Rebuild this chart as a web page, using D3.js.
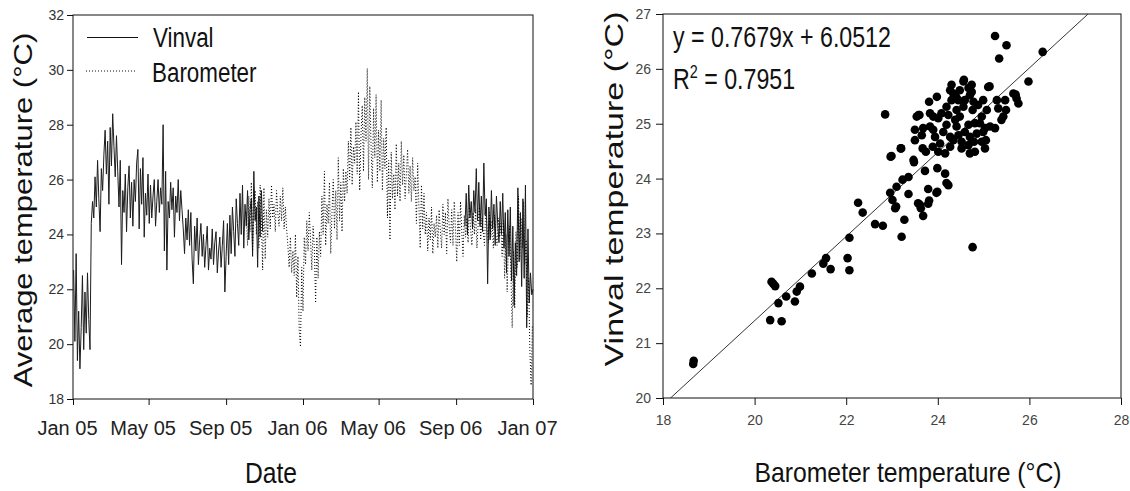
<!DOCTYPE html>
<html>
<head>
<meta charset="utf-8">
<script src="https://cdn.jsdelivr.net/npm/d3@7"></script>
<style>
    body { margin: 0; background: #fff; }
    svg { display: block; font-family: "Liberation Sans", Arial, sans-serif; }
</style>
</head>
<body>
<div id="visualization"></div>
<script>
//series names used in the legend
const seriesNames = ["Vinval", "Barometer"];

//date axis ticks
const dateTicks = [
    new Date(2005, 0, 1), new Date(2005, 4, 1), new Date(2005, 8, 1),
    new Date(2006, 0, 1), new Date(2006, 4, 1), new Date(2006, 8, 1),
    new Date(2007, 0, 1)
];
const dateTickLabels = ["Jan 05", "May 05", "Sep 05", "Jan 06", "May 06", "Sep 06", "Jan 07"];
const tempTicks = [18, 20, 22, 24, 26, 28, 30, 32];

//daily averages, one reading every 2 days
const stepDays = 2;

const vinval2005Start = new Date(2005, 0, 2);
const vinval2005 = [
    22.7, 20.1, 23.3, 19.4, 21.2, 19.1, 20.6, 22.5, 19.8, 21.9, 20.4, 22.6, 20.9, 19.8,
    24.4, 25.2,
    24.6, 26.1, 25.0, 26.7, 25.3, 24.1, 26.4, 25.6,
    26.9, 27.8, 26.2, 27.4, 25.1, 27.9, 26.5, 28.4, 27.2, 26.1, 27.6,
    26.3, 25.0, 26.7, 22.9, 25.6,
    24.8, 26.2, 24.1, 25.7, 26.5, 24.6, 25.9, 24.3, 26.0, 25.2, 26.6,
    27.1, 24.2, 26.4, 25.1, 26.8, 23.9, 25.5, 24.7, 26.2, 24.4,
    25.8, 24.6, 25.4, 26.0, 24.3, 25.2, 26.0, 24.8, 25.7, 25.1,
    28.0,
    23.4, 26.3, 22.7, 25.2,
    24.6, 25.9, 24.9, 25.7, 23.9, 25.4, 24.8, 26.0, 24.5, 25.6, 24.9,
    24.2, 23.3, 24.6, 23.8, 24.9, 23.6,
    24.8, 23.1, 22.2, 24.3, 23.4, 24.6, 22.9, 23.8, 24.4, 23.2,
    24.0, 22.8, 23.6, 24.3, 22.7, 23.5, 23.1, 24.2, 22.9, 23.7, 24.1, 22.6, 23.4, 23.9, 22.8, 23.6, 24.5, 21.9, 23.2, 24.4, 22.9,
    24.7, 23.3, 25.0, 24.1, 23.2, 25.3, 24.4, 23.6, 25.5, 24.0, 25.8,
    23.5, 25.1, 24.3, 25.6, 23.8, 24.9, 25.3, 23.2, 26.3, 24.5, 25.0, 22.8, 25.4, 23.9, 25.6, 24.1
];

const vinval2006Start = new Date(2006, 8, 15);
const vinval2006 = [
    24.3, 25.5, 24.0, 25.8, 24.6, 25.2, 24.2, 25.6, 24.8,
    26.4, 24.5, 25.9, 24.3,
    25.4, 24.1, 26.6, 24.7, 25.3,
    22.2, 25.0, 23.8,
    25.6, 24.2, 25.1, 23.6, 25.4, 24.4, 23.7, 25.2, 24.0, 25.5, 23.5, 24.8,
    22.6, 24.9, 23.2, 25.0, 22.3, 24.3, 21.4, 23.7,
    22.5, 25.7, 23.0, 24.8, 22.1, 25.3, 22.4,
    25.8, 20.6, 24.2, 21.5,
    22.6, 21.8, 22.0
];

const barometerStart = new Date(2005, 9, 3);
const barometer = [
    24.8, 23.6, 25.4, 24.1, 25.9, 23.4, 24.7, 25.6, 24.0, 25.2, 23.5, 25.8, 24.4,
    22.7, 25.7, 23.1, 24.9, 23.9,
    25.3, 24.2, 25.8, 24.6, 25.1, 24.1, 25.6, 24.8, 24.3, 25.4, 24.5, 25.7, 24.2, 25.0,
    24.2, 23.6, 22.8, 23.9, 22.6, 23.4, 22.5,
    24.0, 21.7, 23.2, 20.5, 19.9, 22.8, 21.2, 23.9,
    22.9, 24.5, 23.4, 24.8, 23.8, 22.7, 24.3, 23.5,
    21.5, 23.9, 22.4, 24.1,
    23.2, 25.4, 24.0, 26.3, 23.6, 25.1, 24.4, 25.9, 23.3, 24.8, 26.0, 24.2,
    25.6, 23.8, 26.8, 24.5, 25.9, 24.1, 26.4, 25.2,
    26.3, 25.5, 27.4, 26.0, 27.9, 25.8, 27.2, 26.6,
    28.1, 26.2, 29.2, 25.6, 27.6, 28.7, 26.3, 29.0, 27.4,
    30.05,
    26.0, 29.4, 27.2, 25.7, 28.6, 26.8, 29.1, 25.9, 27.8, 26.3, 28.9, 25.6, 27.5, 26.4,
    27.9, 24.6, 26.7, 23.8, 27.0, 25.3, 26.2, 24.9,
    27.3, 25.4, 26.6, 25.2, 27.4, 25.8, 26.9, 25.3, 26.2, 27.1, 25.5, 26.5, 25.2, 26.8, 25.6, 26.1,
    24.4, 26.6, 25.0, 23.5, 25.8, 24.2, 25.5, 24.0,
    24.8, 23.4, 24.6, 23.8, 25.0, 23.3, 24.4, 23.9, 24.7, 23.5, 24.9, 24.1,
    23.5, 25.1, 24.0, 24.8, 23.3, 25.3, 24.3, 23.7, 24.9, 23.6, 25.2, 24.2,
    23.0, 24.8, 23.6, 25.2, 24.1, 23.2, 24.7, 23.9,
    24.6, 23.7, 25.0, 24.2, 23.6, 24.8, 24.0, 24.9, 23.5, 24.4, 25.0, 23.8, 24.6, 24.1,
    23.6, 24.9, 24.3, 23.7, 24.8, 23.9, 24.5, 23.5, 24.7, 24.0, 23.6, 24.6, 23.9, 24.4,
    23.2, 24.5, 22.4, 24.0, 21.9, 23.6, 24.3, 22.5,
    20.6, 23.4, 21.3, 24.1, 22.8,
    25.4, 23.1, 24.6, 23.5, 25.2, 22.9,
    23.8, 21.0, 22.4, 19.8, 18.5, 20.7
];

//paired days: barometer (x) vs vinval (y)
const baroTemp = [
    18.66, 18.67, 20.37, 20.41, 20.45, 20.34, 20.52, 20.59, 20.69, 20.88,
    20.92, 20.99, 21.25, 21.50, 21.56, 21.66, 22.03, 22.07, 22.07, 22.26,
    22.36, 22.63, 22.80, 23.21, 23.27, 22.96, 23.01, 23.07, 23.10, 23.23,
    23.36, 23.36, 23.48, 23.57, 23.63, 23.68, 23.72, 23.79, 23.81, 23.99,
    24.16, 24.19, 24.23, 23.99, 22.99, 23.20, 23.50, 23.65, 23.68, 23.81,
    23.83, 23.60, 23.83, 23.90, 23.94, 24.05, 23.89, 24.01, 23.74, 23.67,
    24.16, 24.27, 24.27, 24.12, 24.19, 24.23, 24.19, 24.30, 24.27, 24.30,
    24.40, 24.41, 24.45, 24.48, 24.57, 24.67, 24.70, 24.59, 24.56, 24.48,
    24.38, 24.41, 24.45, 24.34, 24.52, 24.59, 24.67, 24.70, 24.52, 24.67,
    24.70, 24.81, 24.79, 24.85, 24.81, 24.76, 24.78, 24.88, 24.99, 24.96,
    24.92, 24.99, 24.96, 25.05, 25.03, 25.03, 25.07, 25.14, 25.13, 25.29,
    25.32, 25.25, 25.39, 25.43, 25.47, 25.49, 25.65, 25.72, 25.76, 25.70,
    24.74, 24.34, 23.54, 23.50, 23.90, 24.01, 24.08, 23.98, 24.56, 24.74,
    25.10, 23.58, 22.85, 25.25, 25.50, 25.34, 26.29, 25.98, 24.76, 23.79,
    23.97, 23.47, 23.19, 22.97, 23.61, 23.09
];
const vinvalTemp = [
    20.62, 20.68, 22.12, 22.08, 22.04, 21.42, 21.73, 21.40, 21.85, 21.76,
    21.94, 22.03, 22.27, 22.45, 22.55, 22.35, 22.55, 22.33, 22.92, 23.56,
    23.38, 23.17, 23.14, 22.94, 23.25, 23.74, 23.61, 23.46, 23.85, 23.98,
    23.72, 24.03, 24.30, 23.55, 23.46, 23.32, 24.14, 23.81, 23.60, 23.76,
    24.09, 23.92, 23.88, 24.19, 24.41, 24.55, 24.70, 24.79, 24.92, 25.40,
    25.19, 25.16, 24.95, 24.89, 24.76, 24.64, 24.58, 24.49, 24.49, 24.55,
    24.46, 24.58, 24.76, 24.85, 24.98, 25.16, 25.31, 25.43, 25.61, 25.71,
    25.49, 25.25, 25.43, 25.61, 25.80, 25.65, 25.52, 25.43, 25.31, 25.13,
    25.07, 24.95, 24.79, 24.70, 24.67, 24.85, 24.98, 24.76, 24.55, 24.61,
    24.46, 24.49, 24.67, 24.82, 25.01, 25.25, 25.40, 25.34, 25.43, 25.13,
    25.01, 24.85, 24.67, 24.70, 24.55, 24.92, 25.25, 24.95, 25.68, 25.43,
    25.28, 24.92, 25.07, 25.13, 25.43, 25.25, 25.55, 25.46, 25.37, 25.53,
    25.71, 25.55, 25.13, 24.89, 25.13, 25.10, 25.19, 25.49, 25.77, 25.58,
    25.67, 25.16, 25.17, 26.60, 26.43, 26.19, 26.31, 25.77, 22.75, 23.54,
    23.74, 24.34, 24.55, 24.40, 23.52, 23.49
];
const baroTicks = [18, 20, 22, 24, 26, 28];
const vinvalTicks = [20, 21, 22, 23, 24, 25, 26, 27];

//linear fit shown on the scatter plot
const fitSlope = 0.7679;
const fitIntercept = 6.0512;
const fitR2 = 0.7951;

//builds dated points from a start date and a list of readings
function toSeries(start, values) {
    return values.map((v, i) => ({ date: d3.timeDay.offset(start, i * stepDays), value: v }));
}

//places a text, optionally squeezed and rotated like the original export
function addText(parent, str, x, y, size, squeeze, anchor, rotated) {
    let t = parent.append("text")
        .attr("font-size", size)
        .attr("fill", "#111")
        .attr("text-anchor", anchor || "start")
        .text(str);
    if(rotated)
        t.attr("transform", `translate(${x}, ${y}) rotate(-90) scale(1, ${squeeze})`);
    else
        t.attr("transform", `translate(${x}, ${y}) scale(${squeeze}, 1)`);
    return t;
}

//styles an axis the way the original export does
function styleAxis(axisGroup, fontSize, color) {
    axisGroup.select(".domain").remove();
    axisGroup.selectAll("line").attr("stroke", "#111");
    axisGroup.selectAll("text")
        .attr("font-size", fontSize)
        .attr("font-family", "Liberation Sans, Arial, sans-serif")
        .attr("fill", color);
    return axisGroup;
}

const width = 1130;
const height = 491;

const svg = d3.select("#visualization")
    .append("svg")
        .attr("width", width)
        .attr("height", height);

/* ---------- left panel: time series ---------- */
function drawTimeSeries() {
    const box = { left: 73, right: 533, top: 15, bottom: 399 };
    const g = svg.append("g").attr("id", "time-series");

    const x = d3.scaleTime()
        .domain([new Date(2005, 0, 1), new Date(2007, 0, 1)])
        .range([box.left, box.right]);
    const y = d3.scaleLinear()
        .domain([18, 32])
        .range([box.bottom, box.top]);

    //x axis
    const xAxis = g.append("g")
        .attr("transform", `translate(0, ${box.bottom})`)
        .call(d3.axisBottom(x)
            .tickValues(dateTicks)
            .tickFormat((d, i) => dateTickLabels[i])
            .tickSize(6)
            .tickSizeOuter(0)
            .tickPadding(16));
    styleAxis(xAxis, 20, "#222")
        .selectAll("text")
            .attr("dx", -6);

    //y axis
    const yAxis = g.append("g")
        .attr("transform", `translate(${box.left}, 0)`)
        .call(d3.axisLeft(y)
            .tickValues(tempTicks)
            .tickFormat(d3.format("d"))
            .tickSize(6)
            .tickSizeOuter(0)
            .tickPadding(3));
    styleAxis(yAxis, 14, "#333");

    //frame
    g.append("rect")
        .attr("x", box.left)
        .attr("y", box.top)
        .attr("width", box.right - box.left)
        .attr("height", box.bottom - box.top)
        .attr("fill", "none")
        .attr("stroke", "#111")
        .attr("stroke-width", 1);

    const line = d3.line()
        .x(d => x(d.date))
        .y(d => y(d.value));

    //vinval, solid
    [toSeries(vinval2005Start, vinval2005), toSeries(vinval2006Start, vinval2006)].forEach(s => {
        g.append("path")
            .datum(s)
            .attr("d", line)
            .attr("fill", "none")
            .attr("stroke", "#1c1c1c")
            .attr("stroke-width", 1);
    });

    //barometer, dotted
    g.append("path")
        .datum(toSeries(barometerStart, barometer))
        .attr("d", line)
        .attr("fill", "none")
        .attr("stroke", "#000")
        .attr("stroke-width", 1)
        .attr("stroke-dasharray", "1,2");

    //legend
    const legend = g.append("g").attr("id", "legend");
    legend.append("line")
        .attr("x1", 87).attr("x2", 138)
        .attr("y1", 37.5).attr("y2", 37.5)
        .attr("stroke", "#111");
    legend.append("line")
        .attr("x1", 86).attr("x2", 136)
        .attr("y1", 71).attr("y2", 71)
        .attr("stroke", "#111")
        .attr("stroke-dasharray", "1,2");
    addText(legend, seriesNames[0], 153, 46.5, 28, 0.8);
    addText(legend, seriesNames[1], 152, 81.5, 28, 0.8);

    //axis titles
    addText(g, "Date", 271, 483, 29, 0.85, "middle");
    addText(g, "Average temperature (°C)", 32, 210, 31, 0.84, "middle", true);
}

/* ---------- right panel: scatter ---------- */
function drawScatter() {
    const box = { left: 663, right: 1121, top: 14, bottom: 398 };
    const g = svg.append("g").attr("id", "scatter");

    const x = d3.scaleLinear()
        .domain([18, 28])
        .range([box.left, box.right]);
    const y = d3.scaleLinear()
        .domain([20, 27])
        .range([box.bottom, box.top]);

    const xAxis = g.append("g")
        .attr("transform", `translate(0, ${box.bottom})`)
        .call(d3.axisBottom(x)
            .tickValues(baroTicks)
            .tickFormat(d3.format("d"))
            .tickSize(7)
            .tickSizeOuter(0)
            .tickPadding(10));
    styleAxis(xAxis, 14, "#444");

    const yAxis = g.append("g")
        .attr("transform", `translate(${box.left}, 0)`)
        .call(d3.axisLeft(y)
            .tickValues(vinvalTicks)
            .tickFormat(d3.format("d"))
            .tickSize(7)
            .tickSizeOuter(0)
            .tickPadding(5));
    styleAxis(yAxis, 14, "#444");

    g.append("rect")
        .attr("x", box.left)
        .attr("y", box.top)
        .attr("width", box.right - box.left)
        .attr("height", box.bottom - box.top)
        .attr("fill", "none")
        .attr("stroke", "#111")
        .attr("stroke-width", 1);

    //clip for the fitted line
    svg.append("defs")
        .append("clipPath")
            .attr("id", "scatter-clip")
        .append("rect")
            .attr("x", box.left)
            .attr("y", box.top)
            .attr("width", box.right - box.left)
            .attr("height", box.bottom - box.top);

    const fitX = x.domain();
    g.append("line")
        .attr("clip-path", "url(#scatter-clip)")
        .attr("x1", x(fitX[0]))
        .attr("y1", y(fitSlope * fitX[0] + fitIntercept))
        .attr("x2", x(fitX[1]))
        .attr("y2", y(fitSlope * fitX[1] + fitIntercept))
        .attr("stroke", "#333")
        .attr("stroke-width", 1);

    g.append("g")
        .selectAll("circle")
        .data(baroTemp.map((b, i) => [b, vinvalTemp[i]]))
        .join("circle")
            .attr("cx", d => x(d[0]))
            .attr("cy", d => y(d[1]))
            .attr("r", 4.3)
            .attr("fill", "#000");

    //equation and r squared
    addText(g, `y = ${fitSlope}x + ${fitIntercept}`, 673, 47, 29, 0.8);
    const r2 = addText(g, "R", 673, 89, 29, 0.8);
    r2.append("tspan")
        .attr("font-size", 18)
        .attr("dy", -11)
        .text("2");
    r2.append("tspan")
        .attr("dy", 11)
        .text(` = ${fitR2}`);

    //axis titles
    addText(g, "Barometer temperature (°C)", 908, 482, 28, 0.885, "middle");
    addText(g, "Vinval temperature (°C)", 623, 189, 34, 0.78, "middle", true);
}

drawTimeSeries();
drawScatter();
</script>
</body>
</html>
